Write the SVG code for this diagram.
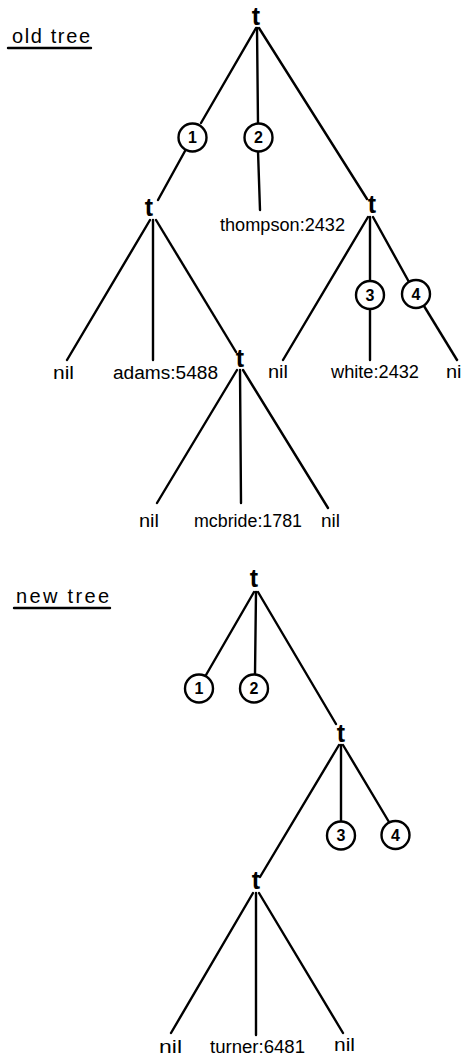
<svg xmlns="http://www.w3.org/2000/svg" width="462" height="1059" viewBox="0 0 462 1059">
<style>
  .ln { stroke:#000; stroke-width:2.4; fill:none; stroke-linecap:round; }
  .circ { stroke:#000; stroke-width:2.4; fill:#fff; }
  .lbl { font-family:"Liberation Sans", Arial, sans-serif; font-size:18px; fill:#000; }
  .tt { font-family:"Liberation Sans", Arial, sans-serif; font-size:25px; font-weight:bold; fill:#000; text-anchor:middle; }
  .num { font-family:"Liberation Sans", Arial, sans-serif; font-size:16px; font-weight:bold; fill:#000; text-anchor:middle; }
  .hd { font-family:"Liberation Sans", Arial, sans-serif; font-size:20px; fill:#000; }
</style>
<rect width="462" height="1059" fill="#fff"/>

<g id="connectors">
  <!-- old tree -->
  <line class="ln" x1="256" y1="28" x2="201" y2="123"/>
  <line class="ln" x1="185" y1="151" x2="158" y2="200"/>
  <line class="ln" x1="257" y1="28" x2="258" y2="124"/>
  <line class="ln" x1="258" y1="151" x2="260" y2="210"/>
  <line class="ln" x1="259" y1="28" x2="367" y2="199"/>
  <line class="ln" x1="150" y1="220" x2="67" y2="360"/>
  <line class="ln" x1="153" y1="220" x2="153" y2="360"/>
  <line class="ln" x1="156" y1="220" x2="236" y2="352"/>
  <line class="ln" x1="237" y1="370" x2="157" y2="503"/>
  <line class="ln" x1="240" y1="370" x2="241" y2="503"/>
  <line class="ln" x1="243" y1="370" x2="328" y2="508"/>
  <line class="ln" x1="368" y1="217" x2="283" y2="360"/>
  <line class="ln" x1="370" y1="217" x2="370" y2="281"/>
  <line class="ln" x1="370" y1="309" x2="370" y2="360"/>
  <line class="ln" x1="373" y1="217" x2="409" y2="282"/>
  <line class="ln" x1="424" y1="306" x2="457" y2="360"/>
  <!-- new tree -->
  <line class="ln" x1="254" y1="592" x2="206" y2="675"/>
  <line class="ln" x1="256" y1="592" x2="255" y2="674"/>
  <line class="ln" x1="258" y1="592" x2="336" y2="724"/>
  <line class="ln" x1="339" y1="745" x2="260" y2="877"/>
  <line class="ln" x1="341" y1="745" x2="341" y2="821"/>
  <line class="ln" x1="343" y1="745" x2="389" y2="822"/>
  <line class="ln" x1="253" y1="893" x2="171" y2="1033"/>
  <line class="ln" x1="256" y1="893" x2="256" y2="1035"/>
  <line class="ln" x1="259" y1="893" x2="343" y2="1033"/>
</g>

<g id="old-tree-label">
  <text class="hd" x="12" y="43" textLength="78" lengthAdjust="spacing">old tree</text>
  <line class="ln" x1="8" y1="48" x2="91" y2="48"/>
</g>
<g id="new-tree-label">
  <text class="hd" x="16" y="603" textLength="93" lengthAdjust="spacing">new tree</text>
  <line class="ln" x1="14" y1="608" x2="110" y2="608"/>
</g>

<!-- old tree nodes -->
<g id="old-root"><text class="tt" x="256" y="25">t</text></g>
<g id="old-c1"><circle class="circ" cx="192.5" cy="137.5" r="14"/><text class="num" x="192.5" y="143">1</text></g>
<g id="old-c2"><circle class="circ" cx="258.5" cy="137.5" r="14"/><text class="num" x="258.5" y="143">2</text></g>
<g id="old-left-t"><text class="tt" x="149" y="216">t</text></g>
<g id="old-thompson"><text class="lbl" x="220" y="231" textLength="125" lengthAdjust="spacingAndGlyphs">thompson:2432</text></g>
<g id="old-right-t"><text class="tt" x="372" y="213">t</text></g>
<g id="old-nil1"><text class="lbl" x="53" y="379" textLength="21" lengthAdjust="spacingAndGlyphs">nil</text></g>
<g id="old-adams"><text class="lbl" x="113" y="379" textLength="105" lengthAdjust="spacingAndGlyphs">adams:5488</text></g>
<g id="old-lower-t"><text class="tt" x="240" y="367">t</text></g>
<g id="old-nil2"><text class="lbl" x="268" y="378" textLength="20" lengthAdjust="spacingAndGlyphs">nil</text></g>
<g id="old-c3"><circle class="circ" cx="370" cy="295" r="14"/><text class="num" x="370" y="300.5">3</text></g>
<g id="old-c4"><circle class="circ" cx="416" cy="294" r="14"/><text class="num" x="416" y="299.5">4</text></g>
<g id="old-white"><text class="lbl" x="331" y="378" textLength="88" lengthAdjust="spacingAndGlyphs">white:2432</text></g>
<g id="old-nil3"><text class="lbl" x="446" y="378" textLength="20" lengthAdjust="spacingAndGlyphs">nil</text></g>
<g id="old-nil4"><text class="lbl" x="139" y="527" textLength="20" lengthAdjust="spacingAndGlyphs">nil</text></g>
<g id="old-mcbride"><text class="lbl" x="194" y="527" textLength="108" lengthAdjust="spacingAndGlyphs">mcbride:1781</text></g>
<g id="old-nil5"><text class="lbl" x="321" y="527" textLength="19" lengthAdjust="spacingAndGlyphs">nil</text></g>

<!-- new tree nodes -->
<g id="new-root"><text class="tt" x="254" y="587">t</text></g>
<g id="new-c1"><circle class="circ" cx="199" cy="688.5" r="14"/><text class="num" x="199" y="694">1</text></g>
<g id="new-c2"><circle class="circ" cx="254" cy="688.5" r="14"/><text class="num" x="254" y="694">2</text></g>
<g id="new-right-t"><text class="tt" x="341" y="742">t</text></g>
<g id="new-c3"><circle class="circ" cx="341" cy="835.5" r="14"/><text class="num" x="341" y="841">3</text></g>
<g id="new-c4"><circle class="circ" cx="395.5" cy="835" r="14"/><text class="num" x="395.5" y="840.5">4</text></g>
<g id="new-lower-t"><text class="tt" x="256" y="889">t</text></g>
<g id="new-nil1"><text class="lbl" x="159" y="1053" textLength="23" lengthAdjust="spacingAndGlyphs">nil</text></g>
<g id="new-turner"><text class="lbl" x="210" y="1053" textLength="95" lengthAdjust="spacingAndGlyphs">turner:6481</text></g>
<g id="new-nil2"><text class="lbl" x="334" y="1051" textLength="21" lengthAdjust="spacingAndGlyphs">nil</text></g>
</svg>
